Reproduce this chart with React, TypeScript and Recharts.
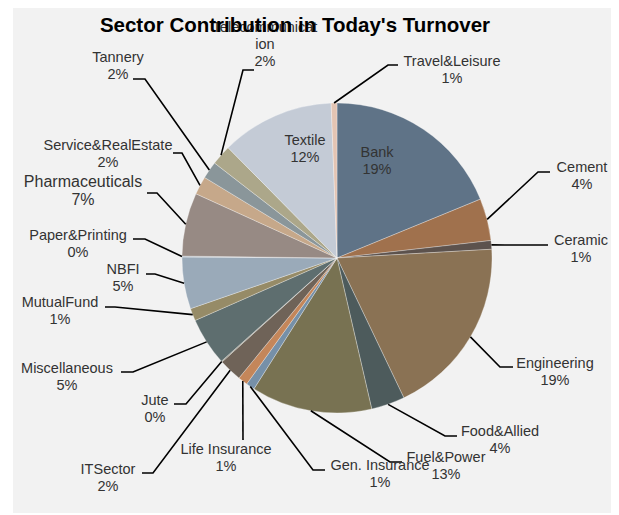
import { PieChart, Pie, Cell } from "recharts";

const sectors = [
  "Bank",
  "Cement",
  "Ceramic",
  "Engineering",
  "Food&Allied",
  "Fuel&Power",
  "Gen. Insurance",
  "Life Insurance",
  "ITSector",
  "Jute",
  "Miscellaneous",
  "MutualFund",
  "NBFI",
  "Paper&Printing",
  "Pharmaceuticals",
  "Service&RealEstate",
  "Tannery",
  "Telecommunication",
  "Textile",
  "Travel&Leisure",
];

const shares = [
  18.8, 4.4, 0.9, 18.8, 3.5, 12.6, 0.9, 1.0, 2.4, 0.1, 5.0, 1.3, 5.4, 0.1, 6.6, 1.9, 1.8, 2.1,
  11.8, 0.6,
];

const sliceColors = [
  "#5f7387", "#a0714d", "#5c524d", "#8a7254", "#4d5b5c", "#787252", "#7690a8", "#c4865a",
  "#6f6358", "#8e8a78", "#5e6e6f", "#968b67", "#9aaab9", "#aeb8c2", "#978a84", "#c6a88a",
  "#8a969a", "#aca78a", "#c4cbd6", "#e3c4b3",
];

const data = sectors.map((name, i) => ({ name, value: shares[i] }));

// offset of the chart box on the page
const OX = 13;
const OY = 8;

type Spot = {
  x: number;
  y: number;
  lines?: string[];
  elbow?: [number, number];
  end?: [number, number];
  size?: number;
};

// label placement, page coordinates (first text line centre)
const spots: Record<string, Spot> = {
  Bank: { x: 377, y: 152 },
  Cement: { x: 582, y: 167, elbow: [538, 172], end: [550, 172] },
  Ceramic: { x: 581, y: 240, elbow: [505, 245], end: [548, 245] },
  Engineering: { x: 555, y: 363, elbow: [500, 367], end: [513, 367] },
  "Food&Allied": { x: 500, y: 431, elbow: [445, 436], end: [457, 436] },
  "Fuel&Power": { x: 446, y: 457, elbow: [390, 462], end: [402, 462] },
  "Gen. Insurance": { x: 380, y: 465, elbow: [313, 470], end: [325, 470] },
  "Life Insurance": { x: 226, y: 449, elbow: [243, 440], end: [243, 440] },
  ITSector: { x: 108, y: 469, elbow: [153, 473], end: [142, 473] },
  Jute: { x: 155, y: 400, elbow: [186, 404], end: [174, 404] },
  Miscellaneous: { x: 67, y: 368, elbow: [133, 372], end: [121, 372] },
  MutualFund: { x: 60, y: 302, elbow: [115, 307], end: [105, 307] },
  NBFI: { x: 123, y: 269, elbow: [155, 274], end: [146, 274] },
  "Paper&Printing": { x: 78, y: 235, elbow: [145, 239], end: [133, 239] },
  Pharmaceuticals: { x: 83, y: 181, elbow: [157, 193], end: [147, 193], size: 16 },
  "Service&RealEstate": { x: 108, y: 145, elbow: [182, 153], end: [173, 153] },
  Tannery: { x: 118, y: 57, elbow: [145, 79], end: [133, 79] },
  Telecommunication: {
    x: 265,
    y: 27,
    lines: ["Telecommunicat", "ion"],
    elbow: [243, 70],
    end: [254, 70],
  },
  Textile: { x: 305, y: 140 },
  "Travel&Leisure": { x: 452, y: 61, elbow: [388, 65], end: [398, 65] },
};

const FONT = "'Liberation Sans', Arial, sans-serif";
const RAD = Math.PI / 180;

function SectorLabel(props: any) {
  const { cx, cy, midAngle, outerRadius, percent, index } = props;
  const name = sectors[index];
  const spot = spots[name];
  if (!spot) return null;
  const lines = [...(spot.lines ?? [name]), `${Math.round(percent * 100)}%`];
  const px = cx + outerRadius * Math.cos(-midAngle * RAD);
  const py = cy + outerRadius * Math.sin(-midAngle * RAD);
  const step = spot.size ? 18 : 17;
  return (
    <g>
      {spot.elbow && spot.end && (
        <polyline
          points={`${px},${py} ${spot.elbow[0] - OX},${spot.elbow[1] - OY} ${spot.end[0] - OX},${spot.end[1] - OY}`}
          fill="none"
          stroke="#000"
          strokeWidth={1.6}
        />
      )}
      {lines.map((t, i) => (
        <text
          key={i}
          x={spot.x - OX}
          y={spot.y - OY + i * step}
          textAnchor="middle"
          dominantBaseline="central"
          fontFamily={FONT}
          fontSize={spot.size ?? 14.5}
          fill="#333"
        >
          {t}
        </text>
      ))}
    </g>
  );
}

export default function App() {
  return (
    <div
      style={{
        position: "relative",
        marginLeft: 5,
        width: 604,
        height: 505,
        background: "#f2f2f2",
      }}
    >
      <PieChart width={604} height={505} margin={{ top: 0, right: 0, bottom: 0, left: 0 }}>
        <Pie
          data={data}
          dataKey="value"
          nameKey="name"
          cx={324}
          cy={250}
          outerRadius={155}
          startAngle={90}
          endAngle={-270}
          stroke="#ffffff"
          strokeOpacity={0.5}
          strokeWidth={0.6}
          label={SectorLabel}
          labelLine={false}
          isAnimationActive={false}
        >
          {data.map((d, i) => (
            <Cell key={d.name} fill={sliceColors[i]} />
          ))}
        </Pie>
      </PieChart>
      <div
        style={{
          position: "absolute",
          left: 282 - 300,
          top: 5,
          width: 600,
          lineHeight: "24px",
          textAlign: "center",
          fontFamily: FONT,
          fontWeight: "bold",
          fontSize: 20.5,
          color: "#000",
          pointerEvents: "none",
        }}
      >
        Sector Contribution in Today's Turnover
      </div>
    </div>
  );
}
